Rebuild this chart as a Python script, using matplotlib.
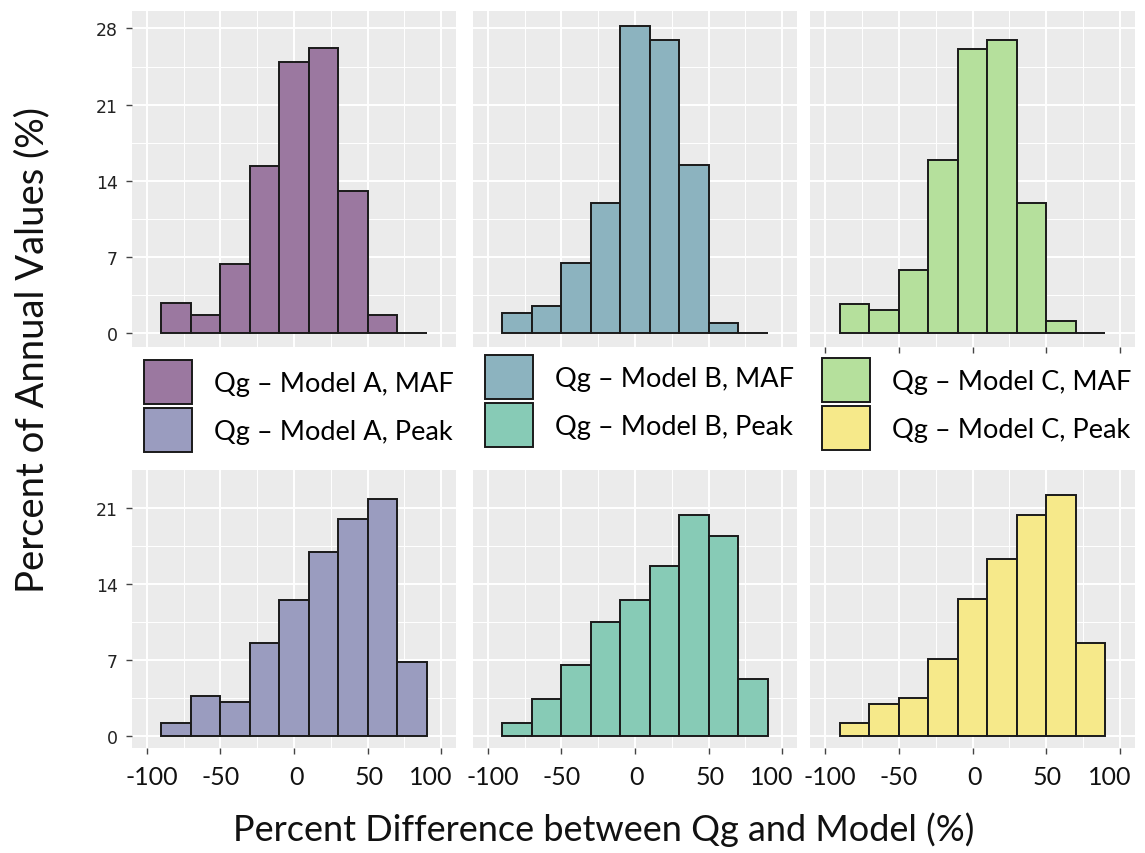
import matplotlib.pyplot as plt
import matplotlib.transforms as mtransforms
from matplotlib.patches import Patch
from matplotlib.ticker import MultipleLocator

# bin centres (bins of width 20 from -90 to 90)
bin_centers = [-80, -60, -40, -20, 0, 20, 40, 60, 80]

maf_a = [2.8, 1.7, 6.4, 15.4, 24.9, 26.2, 13.1, 1.7, 0.0]
maf_b = [1.9, 2.5, 6.5, 12.0, 28.2, 26.9, 15.5, 0.9, 0.0]
maf_c = [2.7, 2.1, 5.8, 15.9, 26.1, 26.9, 12.0, 1.1, 0.0]

peak_a = [1.2, 3.7, 3.1, 8.5, 12.5, 16.9, 20.0, 21.8, 6.8]
peak_b = [1.2, 3.4, 6.5, 10.5, 12.5, 15.6, 20.3, 18.4, 5.2]
peak_c = [1.2, 2.9, 3.5, 7.1, 12.6, 16.3, 20.3, 22.2, 8.5]

x_ticks = [-100, -50, 0, 50, 100]
x_ticklabels = ['-100', '-50', '0', '50', '100']
y_ticks_top = [0, 7, 14, 21, 28]
y_ticks_bot = [0, 7, 14, 21]

labels_maf = ['Qg \u2013 Model A, MAF', 'Qg \u2013 Model B, MAF', 'Qg \u2013 Model C, MAF']
labels_peak = ['Qg \u2013 Model A, Peak', 'Qg \u2013 Model B, Peak', 'Qg \u2013 Model C, Peak']
colors_maf = ['#9b78a0', '#8cb3bf', '#b5e09c']
colors_peak = ['#9a9cbf', '#87cbb6', '#f6e98a']

W, H = 1145, 854
plt.rcParams['font.family'] = ['Lato', 'DejaVu Sans']
fig = plt.figure(figsize=(W / 100, H / 100), dpi=100)


def px_axes(x0, y0, x1, y1):
    return fig.add_axes([x0 / W, 1 - y1 / H, (x1 - x0) / W, (y1 - y0) / H])


def style(ax, ylim, yticks, show_y):
    ax.set_facecolor('#ebebeb')
    for s in ax.spines.values():
        s.set_visible(False)
    ax.set_xlim(-110, 110)
    ax.set_ylim(*ylim)
    ax.set_xticks(x_ticks)
    ax.xaxis.set_minor_locator(MultipleLocator(25))
    ax.yaxis.set_minor_locator(MultipleLocator(3.5))
    ax.grid(which='major', color='white', linewidth=1.4)
    ax.grid(which='minor', color='white', linewidth=0.7)
    ax.set_axisbelow(True)
    ax.tick_params(which='minor', length=0)
    ax.tick_params(which='major', length=4, width=1, color='#444444')
    if show_y:
        ax.set_yticks(yticks, [str(v) for v in yticks], fontfamily='DejaVu Sans',
                      fontsize=12.5, color='#222222')
        ax.tick_params(axis='y', pad=6)
    else:
        ax.set_yticks(yticks, [])
        ax.tick_params(axis='y', which='both', length=0)


cols = [(132, 456), (473, 797), (810, 1135)]
top_y = (12, 348)
bot_y = (471, 749)

maf_all = [maf_a, maf_b, maf_c]
peak_all = [peak_a, peak_b, peak_c]

# small horizontal nudges (px) so neighbouring tick labels do not collide
label_nudge = [5, 0, 2, 1, -11]

for i, (x0, x1) in enumerate(cols):
    ax = px_axes(x0, top_y[0], x1, top_y[1])
    ax.bar(bin_centers, maf_all[i], width=20, color=colors_maf[i],
           edgecolor='#1a1a1a', linewidth=1.4)
    style(ax, (-1.26, 29.6), y_ticks_top, i == 0)
    ax.set_xticklabels([])
    if i < 2:
        ax.tick_params(axis='x', length=0)

    ax = px_axes(x0, bot_y[0], x1, bot_y[1])
    ax.bar(bin_centers, peak_all[i], width=20, color=colors_peak[i],
           edgecolor='#1a1a1a', linewidth=1.4)
    style(ax, (-1.13, 24.47), y_ticks_bot, i == 0)
    ax.set_xticks(x_ticks, x_ticklabels, fontsize=18, color='#111111')
    ax.tick_params(axis='x', pad=8)
    for lab, dx in zip(ax.get_xticklabels(), label_nudge):
        off = mtransforms.ScaledTranslation(dx / 100, 0, fig.dpi_scale_trans)
        lab.set_transform(lab.get_transform() + off)

# legends between the rows
leg_fs = 19.5
leg_pos = [(144, 361), (485, 356), (822, 359)]
for i, (lx, ly) in enumerate(leg_pos):
    handles = [Patch(facecolor=colors_maf[i], edgecolor='#1a1a1a', linewidth=1.4),
               Patch(facecolor=colors_peak[i], edgecolor='#1a1a1a', linewidth=1.4)]
    fs_px = leg_fs * 100 / 72
    fig.legend(handles, [labels_maf[i], labels_peak[i]], loc='upper left',
               bbox_to_anchor=(lx / W, 1 - ly / H), frameon=False,
               fontsize=leg_fs, borderpad=0, borderaxespad=0,
               handlelength=48 / fs_px, handleheight=(44 / fs_px - 0.245) / 0.65,
               labelspacing=4 / fs_px, handletextpad=22 / fs_px)

fig.text(32 / W, 1 - 350 / H, 'Percent of Annual Values (%)', rotation=90,
         ha='center', va='center', fontsize=27.5, color='#111111')
fig.text(604 / W, 1 - 830 / H, 'Percent Difference between Qg and Model (%)',
         ha='center', va='center', fontsize=26, color='#111111')

fig.savefig('out.png', dpi=100)
